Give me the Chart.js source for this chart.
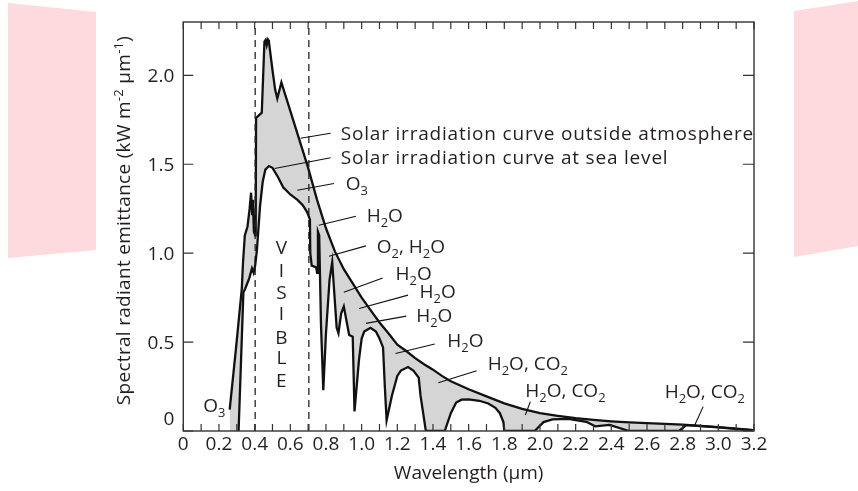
<!DOCTYPE html>
<html>
<head>
<meta charset="utf-8">
<script src="https://cdn.jsdelivr.net/npm/chart.js@4.4.1/dist/chart.umd.min.js"></script>
<style>
  html, body { margin: 0; padding: 0; background: #fff; }
  #wrap { position: relative; width: 858px; height: 491px; overflow: hidden; }
  .pink { position: absolute; top: 0; height: 260px; background: #fddadd; }
  #pinkL { left: 0; width: 96px; clip-path: polygon(8px 3px, 96px 12px, 96px 250px, 8px 258px); }
  #pinkR { left: 794px; width: 64px; clip-path: polygon(0 11px, 64px 1px, 64px 246px, 0 257px); }
  #chart { position: absolute; left: 0; top: 0; }
</style>
</head>
<body>
<div id="wrap">
  <div class="pink" id="pinkL"></div>
  <div class="pink" id="pinkR"></div>
  <canvas id="chart" width="858" height="491"></canvas>
</div>
<script>
// Solar irradiation outside the atmosphere (wavelength in um, kW m-2 um-1)
const outsideWl = [0.26, 0.295, 0.328, 0.335, 0.345, 0.36, 0.372, 0.38, 0.386, 0.39, 0.396, 0.403, 0.406, 0.408,
  0.44, 0.455, 0.462, 0.468, 0.475, 0.48, 0.50, 0.515, 0.527, 0.55, 0.60, 0.65, 0.70, 0.75, 0.80, 0.85, 0.90,
  0.95, 1.00, 1.05, 1.10, 1.15, 1.20, 1.25, 1.30, 1.35, 1.40, 1.45, 1.50, 1.60, 1.70, 1.80, 1.90, 2.00, 2.10,
  2.20, 2.30, 2.40, 2.50, 2.60, 2.80, 3.00, 3.20];
const outsideVal = [0.12, 0.46, 0.80, 0.95, 1.10, 1.15, 1.25, 1.34, 1.22, 1.30, 1.12, 1.10, 1.17, 1.76,
  1.79, 2.19, 2.20, 2.17, 2.20, 2.19, 2.03, 1.92, 1.87, 1.96, 1.80, 1.64, 1.48, 1.30, 1.14, 1.01, 0.91,
  0.83, 0.75, 0.68, 0.61, 0.55, 0.485, 0.45, 0.41, 0.375, 0.345, 0.31, 0.28, 0.235, 0.195, 0.155, 0.125, 0.10, 0.085,
  0.072, 0.062, 0.054, 0.048, 0.044, 0.036, 0.022, 0.005];

// Solar irradiation at sea level
const seaWl = [0.31, 0.337, 0.347, 0.37, 0.385, 0.394, 0.403, 0.413, 0.43, 0.445, 0.46, 0.48, 0.50, 0.53, 0.56,
  0.60, 0.64, 0.67, 0.695, 0.71, 0.712, 0.72, 0.745, 0.75, 0.755, 0.762, 0.772, 0.785, 0.80, 0.82, 0.835, 0.845,
  0.86, 0.87, 0.885, 0.90, 0.915, 0.93, 0.95, 0.96, 0.985, 1.00, 1.015, 1.05, 1.08, 1.10, 1.12, 1.13, 1.14,
  1.17, 1.20, 1.22, 1.26, 1.29, 1.32, 1.33, 1.36, 1.466, 1.50, 1.53, 1.56, 1.60, 1.66, 1.71, 1.75, 1.775,
  1.795, 1.80, 1.97, 2.02, 2.07, 2.16, 2.26, 2.31, 2.39, 2.50, 2.78, 2.82, 3.00, 3.20];
const seaVal = [0.0, 0.78, 0.80, 0.86, 0.914, 0.89, 0.93, 1.02, 1.26, 1.40, 1.47, 1.49, 1.48, 1.43, 1.37,
  1.33, 1.30, 1.27, 1.23, 1.19, 1.00, 0.93, 0.92, 0.89, 1.12, 1.10, 0.60, 0.23, 0.55, 0.85, 0.95, 0.80,
  0.58, 0.55, 0.66, 0.70, 0.62, 0.54, 0.53, 0.11, 0.40, 0.52, 0.56, 0.58, 0.56, 0.52, 0.47, 0.25, 0.06,
  0.20, 0.31, 0.34, 0.36, 0.34, 0.30, 0.20, 0.0, 0.0, 0.10, 0.16, 0.176, 0.178, 0.17, 0.155, 0.13, 0.10,
  0.05, 0.0, 0.0, 0.05, 0.065, 0.068, 0.052, 0.026, 0.034, 0.0, 0.0, 0.033, 0.02, 0.003];

// visible band limits
const visibleBounds = [0.403, 0.704];

const xTickValues = [0, 0.2, 0.4, 0.6, 0.8, 1.0, 1.2, 1.4, 1.6, 1.8, 2.0, 2.2, 2.4, 2.6, 2.8, 3.0, 3.2];
const xTickLabels = ['0', '0.2', '0.4', '0.6', '0.8', '1.0', '1.2', '1.4', '1.6', '1.8', '2.0', '2.2', '2.4', '2.6', '2.8', '3.0', '3.2'];
const yTickValues = [0, 0.5, 1.0, 1.5, 2.0];
const yTickLabels = ['0', '0.5', '1.0', '1.5', '2.0'];

// absorption notes: text, text anchor (left, baseline), leader line from -> to
const notes = [
  { text: 'Solar irradiation curve outside atmosphere', x: 0.883, y: 1.639, line: [0.657, 1.646, 0.826, 1.674], wide: true },
  { text: 'Solar irradiation curve at sea level', x: 0.883, y: 1.504, line: [0.512, 1.476, 0.826, 1.537], wide: true },
  { text: 'O_3', x: 0.911, y: 1.358, line: [0.639, 1.354, 0.845, 1.392] },
  { text: 'H_2O', x: 1.028, y: 1.176, line: [0.76, 1.157, 0.968, 1.208] },
  { text: 'O_2, H_2O', x: 1.085, y: 1.002, line: [0.817, 0.983, 1.024, 1.041] },
  { text: 'H_2O', x: 1.19, y: 0.848, line: [0.90, 0.78, 1.118, 0.86] },
  { text: 'H_2O', x: 1.325, y: 0.746, line: [0.986, 0.689, 1.26, 0.764] },
  { text: 'H_2O', x: 1.306, y: 0.614, line: [1.024, 0.605, 1.25, 0.646] },
  { text: 'H_2O', x: 1.48, y: 0.474, line: [1.19, 0.436, 1.41, 0.489] },
  { text: 'H_2O, CO_2', x: 1.707, y: 0.343, line: [1.43, 0.271, 1.645, 0.339] },
  { text: 'H_2O, CO_2', x: 1.918, y: 0.193, line: [1.918, 0.09, 1.946, 0.165] },
  { text: 'H_2O, CO_2', x: 2.699, y: 0.184, line: [2.868, 0.034, 2.915, 0.137] },
  { text: 'O_3', x: 0.112, y: 0.108, line: null }
];
const visibleLetters = ['V', 'I', 'S', 'I', 'B', 'L', 'E'];
const visibleLetterY = [0.997, 0.868, 0.744, 0.626, 0.492, 0.374, 0.25];
const visibleLetterX = 0.55;

const FONT = '"Open Sans", "Noto Sans", sans-serif';
const INK = '#231f20';

function pairUp(xs, ys) {
  return xs.map((v, i) => ({ x: v, y: ys[i] }));
}

// split "H_2O" / "m^{-2}" into normal / sub / sup pieces
function richParts(str) {
  const parts = [];
  let i = 0;
  while (i < str.length) {
    const c = str[i];
    if (c === '_' || c === '^') {
      let t;
      if (str[i + 1] === '{') {
        const j = str.indexOf('}', i);
        t = str.slice(i + 2, j);
        i = j + 1;
      } else {
        t = str[i + 1];
        i += 2;
      }
      parts.push({ t: t, mode: c });
    } else {
      let j = i;
      while (j < str.length && str[j] !== '_' && str[j] !== '^') j++;
      parts.push({ t: str.slice(i, j), mode: '' });
      i = j;
    }
  }
  return parts;
}

function drawRich(ctx, str, x, y, size, align, spacing) {
  ctx.letterSpacing = (spacing || 0) + 'px';
  const parts = richParts(str);
  const fonts = parts.map(p => (p.mode ? size * 0.68 : size) + 'px ' + FONT);
  const widths = parts.map((p, k) => { ctx.font = fonts[k]; return ctx.measureText(p.t).width; });
  const total = widths.reduce((a, b) => a + b, 0);
  let cx = align === 'center' ? x - total / 2 : x;
  ctx.textAlign = 'left';
  ctx.textBaseline = 'alphabetic';
  parts.forEach((p, k) => {
    ctx.font = fonts[k];
    const dy = p.mode === '_' ? size * 0.27 : (p.mode === '^' ? -size * 0.4 : 0);
    ctx.fillText(p.t, cx, y + dy);
    cx += widths[k];
  });
  ctx.letterSpacing = '0px';
}

const decor = {
  id: 'decor',
  afterDraw(chart) {
    const { ctx, chartArea: a, scales: { x, y } } = chart;
    ctx.save();

    // frame
    ctx.strokeStyle = '#333';
    ctx.lineWidth = 1.4;
    ctx.strokeRect(a.left, a.top, a.right - a.left, a.bottom - a.top);

    // inside tick marks
    ctx.lineWidth = 1.2;
    ctx.beginPath();
    for (let i = 0; i <= 32; i++) {
      const px = x.getPixelForValue(i / 10);
      ctx.moveTo(px, a.bottom); ctx.lineTo(px, a.bottom - 7);
      ctx.moveTo(px, a.top); ctx.lineTo(px, a.top + 7);
    }
    yTickValues.forEach(v => {
      const py = y.getPixelForValue(v);
      ctx.moveTo(a.left, py); ctx.lineTo(a.left + 10, py);
      ctx.moveTo(a.right, py); ctx.lineTo(a.right - 11, py);
    });
    ctx.stroke();

    // tick labels
    ctx.fillStyle = INK;
    ctx.font = '19px ' + FONT;
    ctx.textBaseline = 'alphabetic';
    ctx.textAlign = 'center';
    xTickValues.forEach((v, i) => {
      ctx.fillText(xTickLabels[i], x.getPixelForValue(v), a.bottom + 19);
    });
    ctx.textAlign = 'right';
    yTickValues.forEach((v, i) => {
      let py = y.getPixelForValue(v);
      if (v === 0) py -= 13;
      ctx.fillText(yTickLabels[i], a.left - 9, py + 6.8);
    });

    // axis titles
    ctx.textAlign = 'center';
    ctx.font = '19px ' + FONT;
    ctx.fillText('Wavelength (\u03bcm)', (a.left + a.right) / 2, a.bottom + 48);
    ctx.save();
    ctx.translate(a.left - 53, (a.top + a.bottom) / 2 - 6);
    ctx.rotate(-Math.PI / 2);
    drawRich(ctx, 'Spectral radiant emittance (kW m^{-2} \u03bcm^{-1})', 0, 0, 19, 'center', 0.3);
    ctx.restore();

    // notes with leader lines
    ctx.strokeStyle = '#111';
    ctx.lineWidth = 1.1;
    notes.forEach(n => {
      if (n.line) {
        ctx.beginPath();
        ctx.moveTo(x.getPixelForValue(n.line[0]), y.getPixelForValue(n.line[1]));
        ctx.lineTo(x.getPixelForValue(n.line[2]), y.getPixelForValue(n.line[3]));
        ctx.stroke();
      }
      drawRich(ctx, n.text, x.getPixelForValue(n.x), y.getPixelForValue(n.y), 19, 'left', n.wide ? 0.8 : 0);
    });

    // VISIBLE
    ctx.font = '19px ' + FONT;
    ctx.textAlign = 'center';
    visibleLetters.forEach((c, i) => {
      ctx.fillText(c, x.getPixelForValue(visibleLetterX), y.getPixelForValue(visibleLetterY[i]));
    });

    ctx.restore();
  }
};

const lineStyle = { showLine: true, pointRadius: 0, borderColor: '#111', borderWidth: 2.3, tension: 0 };

new Chart(document.getElementById('chart'), {
  type: 'scatter',
  data: {
    datasets: [
      Object.assign({ label: 'Solar irradiation curve outside atmosphere', data: pairUp(outsideWl, outsideVal),
        fill: 'origin', backgroundColor: '#d5d5d5', order: 1 }, lineStyle),
      Object.assign({ label: 'Solar irradiation curve at sea level', data: pairUp(seaWl, seaVal),
        fill: 'origin', backgroundColor: '#ffffff', order: 0 }, lineStyle),
      { label: 'visible start', data: [{ x: visibleBounds[0], y: 0 }, { x: visibleBounds[0], y: 2.3 }],
        showLine: true, pointRadius: 0, borderColor: '#222', borderWidth: 1.3, borderDash: [7, 5], fill: false, order: 0 },
      { label: 'visible end', data: [{ x: visibleBounds[1], y: 0 }, { x: visibleBounds[1], y: 2.3 }],
        showLine: true, pointRadius: 0, borderColor: '#222', borderWidth: 1.3, borderDash: [7, 5], fill: false, order: 0 }
    ]
  },
  options: {
    responsive: false,
    animation: false,
    layout: { padding: { top: 22, right: 104, left: 0, bottom: 0 } },
    plugins: {
      legend: { display: false },
      tooltip: { enabled: false },
      filler: { drawTime: 'beforeDatasetsDraw' }
    },
    scales: {
      x: {
        type: 'linear', min: 0, max: 3.2,
        grid: { display: false }, border: { display: false },
        ticks: { display: false },
        afterBuildTicks: s => { s.ticks = xTickValues.map(v => ({ value: v })); },
        afterFit: s => { s.height = 60; }
      },
      y: {
        type: 'linear', min: 0, max: 2.3,
        grid: { display: false }, border: { display: false },
        ticks: { display: false },
        afterBuildTicks: s => { s.ticks = yTickValues.map(v => ({ value: v })); },
        afterFit: s => { s.width = 183.3; }
      }
    }
  },
  plugins: [decor]
});
</script>
</body>
</html>
